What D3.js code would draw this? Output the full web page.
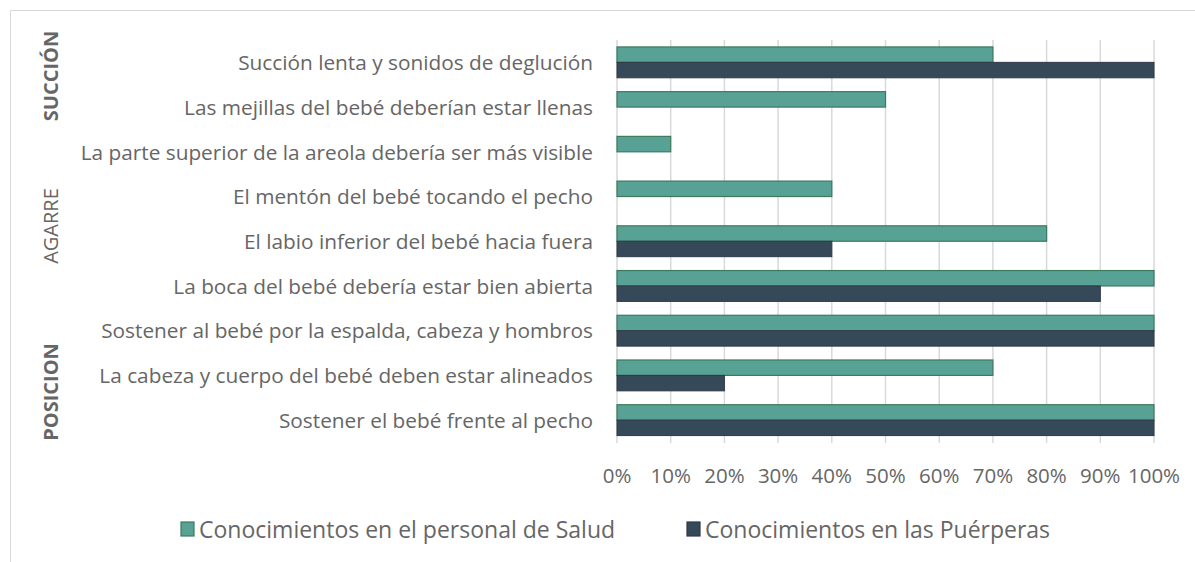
<!DOCTYPE html>
<html><head><meta charset="utf-8">
<script src="https://cdn.jsdelivr.net/npm/d3@7"></script>
<style>body{margin:0;background:#fff}svg{display:block}</style>
</head><body>
<script>
const categories = [
  "Succión lenta y sonidos de deglución",
  "Las mejillas del bebé deberían estar llenas",
  "La parte superior de la areola debería ser más visible",
  "El mentón del bebé tocando el pecho",
  "El labio inferior del bebé hacia fuera",
  "La boca del bebé debería estar bien abierta",
  "Sostener al bebé por la espalda, cabeza y hombros",
  "La cabeza y cuerpo del bebé deben estar alineados",
  "Sostener el bebé frente al pecho"
];
const salud = [70, 50, 10, 40, 80, 100, 100, 70, 100];
const puerperas = [100, 0, 0, 0, 40, 90, 100, 20, 100];
const seriesNames = ["Conocimientos en el personal de Salud", "Conocimientos en las Puérperas"];
const groups = [
  {label: "SUCCIÓN", bold: true, y: 76},
  {label: "AGARRE", bold: false, y: 226},
  {label: "POSICION", bold: true, y: 392}
];
const ticks = [0,10,20,30,40,50,60,70,80,90,100];

const W = 1195, H = 562;
const font = "'Open Sans', sans-serif";
const txt = "#666666";
const svg = d3.select("body").append("svg").attr("width", W).attr("height", H);
svg.append("rect").attr("x", 10.5).attr("y", 10.5).attr("width", W).attr("height", H)
  .attr("fill", "none").attr("stroke", "#d9d9d9");

const x = d3.scaleLinear().domain([0, 100]).range([617, 1154]);
const y = d3.scaleBand().domain(categories).range([40, 442.5]).paddingInner(0.31).paddingOuter(0.155);
const sub = d3.scaleBand().domain([0, 1]).range([0, y.bandwidth()]);

// gridlines
svg.append("g").selectAll("line").data(ticks).join("line")
  .attr("x1", d => x(d)).attr("x2", d => x(d)).attr("y1", 40).attr("y2", 443)
  .attr("stroke", "#d9d9d9").attr("stroke-width", 1.5);

// bars
const g = svg.append("g");
categories.forEach((c, i) => {
  g.append("rect").attr("x", x(0)).attr("y", y(c) + sub(0)).attr("width", x(salud[i]) - x(0))
    .attr("height", sub.bandwidth()).attr("fill", "#57a295").attr("stroke", "#3d7a5c").attr("stroke-width", 1.2)
    .attr("display", salud[i] > 0 ? null : "none");
  g.append("rect").attr("x", x(0)).attr("y", y(c) + sub(1)).attr("width", x(puerperas[i]) - x(0))
    .attr("height", sub.bandwidth()).attr("fill", "#364959").attr("stroke", "#2f3848").attr("stroke-width", 1)
    .attr("display", puerperas[i] > 0 ? null : "none");
});

// category labels
svg.append("g").selectAll("text").data(categories).join("text")
  .attr("x", 593).attr("y", d => y(d) + y.bandwidth() / 2).attr("dy", "0.37em")
  .attr("text-anchor", "end").attr("fill", txt).style("font", `20.8px ${font}`).text(d => d);

// x axis tick labels
svg.append("g").selectAll("text").data(ticks).join("text")
  .attr("x", d => x(d)).attr("y", 475.5).attr("dy", "0.35em").attr("text-anchor", "middle")
  .attr("fill", txt).style("font", `20.5px ${font}`).text(d => d + "%");

// group labels
svg.append("g").selectAll("text").data(groups).join("text")
  .attr("transform", d => `translate(58,${d.y}) rotate(-90)`).attr("text-anchor", "middle")
  .attr("fill", txt).style("font", d => `${d.bold ? "bold " : ""}20px ${font}`).text(d => d.label);

// legend
const leg = svg.append("g");
const legItems = [
  {name: seriesNames[0], fill: "#57a295", stroke: "#3d7a5c", x: 181},
  {name: seriesNames[1], fill: "#364959", stroke: "#2f3848", x: 687}
];
legItems.forEach(l => {
  leg.append("rect").attr("x", l.x).attr("y", 522).attr("width", 13).attr("height", 14)
    .attr("fill", l.fill).attr("stroke", l.stroke).attr("stroke-width", 1.2);
  leg.append("text").attr("x", l.x + 18).attr("y", 529.5).attr("dy", "0.35em")
    .attr("fill", txt).style("font", `23px ${font}`).text(l.name);
});
</script>
</body></html>
